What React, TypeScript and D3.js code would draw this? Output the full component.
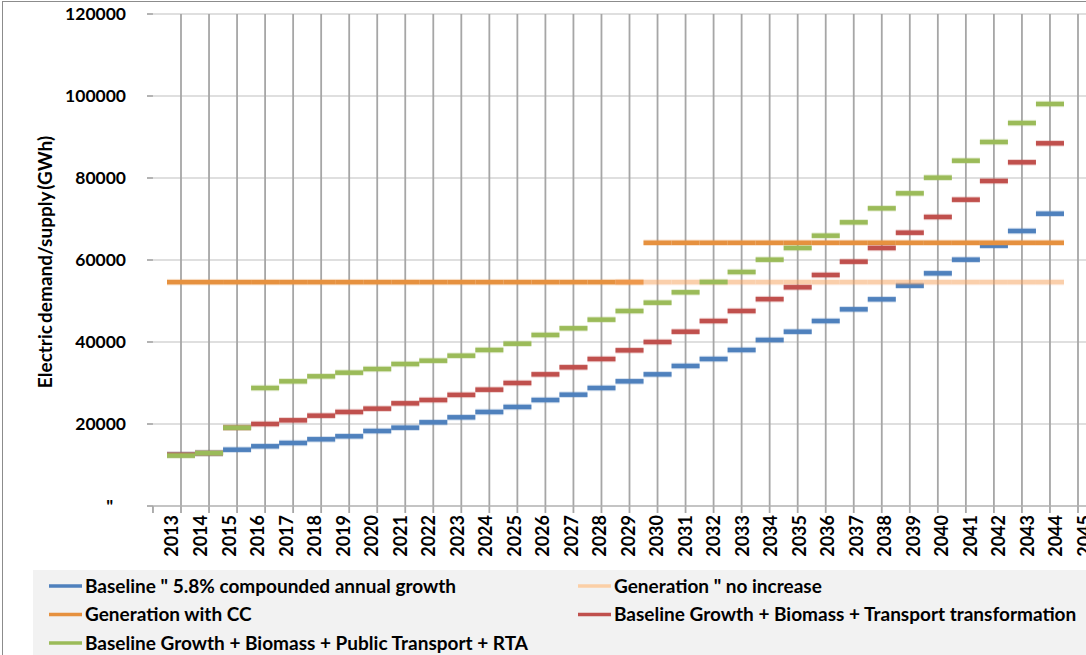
import React from "react";
import * as d3 from "d3";

const years: number[] = d3.range(2013, 2045);
const tickYears: number[] = d3.range(2013, 2046);
const yTicks: number[] = [0, 20000, 40000, 60000, 80000, 100000, 120000];
const yTickLabels: string[] = ['"   ', "20000", "40000", "60000", "80000", "100000", "120000"];

const baseline: number[] = [12500, 12900, 13730, 14560, 15370, 16270, 17000, 18290, 19100, 20410, 21630, 22930, 24150, 25850, 27150, 28780, 30410, 32110, 34150, 35850, 38050, 40490, 42510, 45120, 47970, 50410, 53730, 56750, 60080, 63490, 67070, 71290];
const genNoIncrease: (number | null)[] = [null, null, null, null, null, null, null, null, null, null, null, null, null, null, null, null, 54600, 54600, 54600, 54600, 54600, 54600, 54600, 54600, 54600, 54600, 54600, 54600, 54600, 54600, 54600, 54600];
const genWithCC: number[] = [54600, 54600, 54600, 54600, 54600, 54600, 54600, 54600, 54600, 54600, 54600, 54600, 54600, 54600, 54600, 54600, 54600, 64200, 64200, 64200, 64200, 64200, 64200, 64200, 64200, 64200, 64200, 64200, 64200, 64200, 64200, 64200];
const biomassTransport: number[] = [12500, 12900, 19100, 20000, 20900, 22030, 22930, 23740, 25040, 25850, 27100, 28370, 30000, 32110, 33830, 35850, 37970, 40000, 42510, 45120, 47560, 50450, 53340, 56340, 59590, 62930, 66660, 70490, 74710, 79270, 83830, 88460];
const biomassPTRTA: number[] = [12300, 12900, 19100, 28780, 30410, 31630, 32520, 33410, 34630, 35440, 36660, 38050, 39580, 41710, 43340, 45450, 47560, 49590, 52120, 54630, 57070, 60080, 62930, 65930, 69190, 72600, 76260, 80080, 84220, 88780, 93410, 98050];

const yTitle = "Electric demand/supply (GWh)";

interface Series {
  name: string;
  values: (number | null)[];
  color: string;
  opacity: number;
}

// draw order: blue, orange, peach, red, green
const series: Series[] = [
  { name: 'Baseline " 5.8% compounded annual growth', values: baseline, color: "#4F81BD", opacity: 1 },
  { name: "Generation with CC", values: genWithCC, color: "#E6913F", opacity: 1 },
  { name: 'Generation " no increase', values: genNoIncrease, color: "#F7A05A", opacity: 0.5 },
  { name: "Baseline Growth + Biomass + Transport transformation", values: biomassTransport, color: "#C0504D", opacity: 1 },
  { name: "Baseline Growth + Biomass + Public Transport + RTA", values: biomassPTRTA, color: "#9BBB59", opacity: 1 },
];

const legendItems = [
  { name: 'Baseline " 5.8% compounded annual growth', color: "#4F81BD", col: 0, row: 0 },
  { name: 'Generation " no increase', color: "#FBCFA6", col: 1, row: 0 },
  { name: "Generation with CC", color: "#E6913F", col: 0, row: 1 },
  { name: "Baseline Growth + Biomass + Transport transformation", color: "#C0504D", col: 1, row: 1 },
  { name: "Baseline Growth + Biomass + Public Transport + RTA", color: "#9BBB59", col: 0, row: 2 },
];

const W = 1086;
const H = 655;
const FONT = "Lato, 'Open Sans', sans-serif";

export default function App() {
  const x = d3.scaleLinear().domain([2013, 2045]).range([181, 1078]);
  const xLabel = d3.scaleLinear().domain([2013, 2044]).range([172, 1056]);
  const y = d3.scaleLinear().domain([0, 120000]).range([506, 14]);
  const step = x(2014) - x(2013);
  const axisStart = x(2012);

  return (
    <svg width={W} height={H} style={{ position: "absolute", left: 0, top: 0, display: "block", background: "#fff" }} fontFamily={FONT}>
      <rect x={0} y={0} width={W} height={H} fill="#fff" />
      {/* legend background */}
      <rect x={33} y={570} width={W} height={120} fill="#F2F2F2" />
      {/* chart border */}
      <rect x={2.5} y={1.5} width={W + 50} height={H + 50} fill="none" stroke="#8C8C8C" strokeWidth={1} />

      {/* horizontal gridlines */}
      {yTicks.map((t) => (
        <g key={"hg" + t}>
          {t > 0 && <line x1={axisStart} x2={W} y1={y(t)} y2={y(t)} stroke="#D4D4D4" strokeWidth={1.6} />}
          <line x1={147} x2={axisStart} y1={y(t)} y2={y(t)} stroke="#A0A0A0" strokeWidth={1.6} />
        </g>
      ))}

      {/* vertical gridlines */}
      {tickYears.map((yr) => (
        <line key={"vg" + yr} x1={x(yr)} x2={x(yr)} y1={y(120000)} y2={513} stroke="#A6A6A6" strokeWidth={1.8} />
      ))}
      <line x1={axisStart} x2={axisStart} y1={y(0)} y2={513} stroke="#A6A6A6" strokeWidth={1.8} />

      {/* x axis line */}
      <line x1={axisStart} x2={W} y1={y(0)} y2={y(0)} stroke="#B0B0B0" strokeWidth={1.6} />

      {/* y tick labels */}
      {yTicks.map((t, i) => (
        <text key={"yl" + t} x={126} y={y(t)} dy="0.36em" textAnchor="end" fontSize={17.5} fontWeight={700} fill="#000" style={{ whiteSpace: "pre" }}>
          {yTickLabels[i]}
        </text>
      ))}

      {/* x tick labels */}
      {tickYears.map((yr) => (
        <text
          key={"xl" + yr}
          transform={`translate(${xLabel(yr)},515) rotate(-90)`}
          textAnchor="end"
          dy="0.36em"
          fontSize={18}
          fontWeight={700}
          fill="#000"
        >
          {String(yr)}
        </text>
      ))}

      {/* y title */}
      <text transform={`translate(45,262) rotate(-90)`} textAnchor="middle" dy="0.36em" fontSize={19} fontWeight={700} fill="#000" wordSpacing={-2.5}>
        {yTitle}
      </text>

      {/* series dashes */}
      {series.map((s) => (
        <g key={s.name} opacity={s.opacity}>
          {s.values.map((v, i) =>
            v == null ? null : (
              <g key={i}>
                <line x1={x(years[i]) - step / 2} x2={x(years[i]) + step / 2} y1={y(v)} y2={y(v)} stroke={s.color} strokeOpacity={0.25} strokeWidth={6.5} />
                <line x1={x(years[i]) - step / 2} x2={x(years[i]) + step / 2} y1={y(v)} y2={y(v)} stroke={s.color} strokeWidth={4.5} />
              </g>
            )
          )}
        </g>
      ))}

      {/* legend */}
      {legendItems.map((it) => {
        const sx = it.col === 0 ? 49 : 578;
        const cy = 586 + it.row * 28.5;
        return (
          <g key={it.name}>
            <line x1={sx} x2={sx + 33} y1={cy} y2={cy} stroke={it.color} strokeWidth={3.5} />
            <text x={sx + 36} y={cy} dy="0.36em" fontSize={19} fontWeight={700} fill="#000">
              {it.name}
            </text>
          </g>
        );
      })}
    </svg>
  );
}
